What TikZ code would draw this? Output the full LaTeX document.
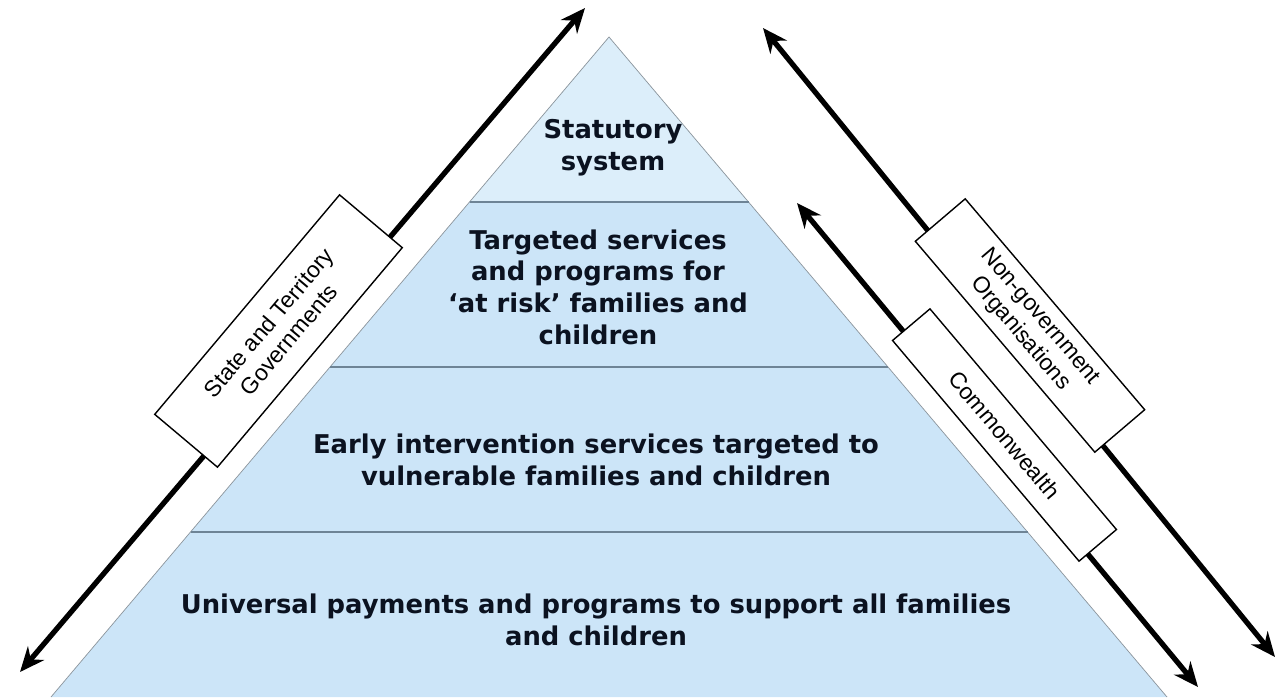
\documentclass[tikz,border=0pt]{standalone}
\usepackage{fontspec}
\setmainfont{DejaVu Sans}
\newfontfamily\boxfont{Liberation Sans}
\usetikzlibrary{arrows.meta,calc}

\begin{document}
\begin{tikzpicture}[x=0.02cm,y=-0.02cm,
        bandtext/.style={align=center,text=textnavy,font=\bfseries\fontsize{14.7}{18}\selectfont},
        govbox/.style={draw,fill=white,line width=0.8pt,align=center,inner sep=0pt,font=\boxfont\fontsize{13}{15}\selectfont},
        bigarrow/.style={line width=3pt,{Stealth[length=14pt,width=12pt]}-{Stealth[length=14pt,width=12pt]}}]
        %colores
        \definecolor{band}{HTML}{CCE5F8}
        \definecolor{topband}{HTML}{DCEEFA}
        \definecolor{edge}{HTML}{8C959C}
        \definecolor{bandline}{HTML}{6E8496}
        \definecolor{textnavy}{HTML}{0B1220}
        \useasboundingbox (0,0) rectangle (1284,697);

        % Piramide
        \coordinate (apex) at (609,37);
        \coordinate (baseL) at (51,697);
        \coordinate (baseR) at (1167,697);
        \fill[band] (apex) -- (baseL) -- (baseR) -- cycle;
        \fill[topband] (apex) -- ($(apex)!0.25!(baseL)$) -- ($(apex)!0.25!(baseR)$) -- cycle;
        \draw[edge] (baseL) -- (apex) -- (baseR);
        \foreach \t in {0.25,0.5,0.75}
        \draw[bandline,line width=0.7pt] ($(apex)!\t!(baseL)$) -- ($(apex)!\t!(baseR)$);

        % Niveles
        \node[bandtext] (statutory) at (613,148) {Statutory\\system};
        \node[bandtext] (targeted) at (598,287) {Targeted services\\and programs for\\‘at risk’ families and\\children};
        \node[bandtext] (early) at (596,460) {Early intervention services targeted to\\vulnerable families and children};
        \node[bandtext] (universal) at (596,620) {Universal payments and programs to support all families\\and children};

        % Flechas y cajas
        \coordinate (stgA) at (20,672);
        \coordinate (stgB) at (585,8);
        \draw[bigarrow] (stgA) -- (stgB);
        \node[govbox,minimum width=5.74cm,minimum height=1.64cm,rotate=49.9] (stg) at (278.5,331) {State and Territory\\Governments};

        \coordinate (ngoA) at (763,28);
        \coordinate (ngoB) at (1275,657);
        \draw[bigarrow] (ngoA) -- (ngoB);
        \node[govbox,minimum width=5.54cm,minimum height=1.31cm,rotate=-49.6] (ngo) at (1030,325.5) {Non-government\\Organisations};

        \coordinate (cwA) at (797,203);
        \coordinate (cwB) at (1198,687);
        \draw[bigarrow] (cwA) -- (cwB);
        \node[govbox,minimum width=5.78cm,minimum height=0.98cm,rotate=-49.8] (cw) at (1004.5,435) {Commonwealth};
    \end{tikzpicture}
\end{document}
